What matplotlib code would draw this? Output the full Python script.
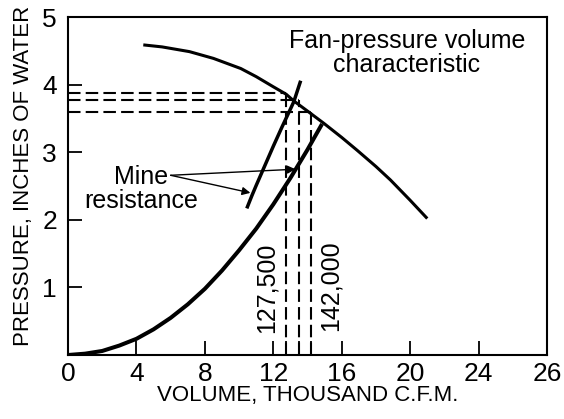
"""Fan characteristic and mine resistance curves"""
import matplotlib
matplotlib.use('Agg')
import matplotlib.pyplot as plt

plt.rcParams['font.family'] = ['Liberation Sans', 'DejaVu Sans']

# Fan-pressure volume characteristic
fan_q = [4.4, 5.5, 7.1, 8.5, 10.1, 11.0, 12.0, 12.75, 13.2, 14.0, 14.95, 16.0, 16.9, 18.0, 18.85, 20.0, 21.0]
fan_p = [4.59, 4.56, 4.49, 4.39, 4.24, 4.12, 3.97, 3.86, 3.76, 3.61, 3.43, 3.22, 3.03, 2.79, 2.59, 2.29, 2.02]

# Mine resistance, steep curve
mine1_q = [10.45, 10.75, 11.0, 11.5, 12.0, 12.5, 13.0, 13.2, 13.6]
mine1_p = [2.17, 2.36, 2.51, 2.80, 3.09, 3.37, 3.64, 3.75, 4.06]

# Mine resistance, flat curve
mine2_q = [0.0, 1.0, 2.0, 3.0, 4.0, 5.0, 6.0, 7.0, 8.0, 9.0, 10.0, 11.0, 12.0, 13.0, 14.0, 14.85]
mine2_p = [0.0, 0.02, 0.06, 0.14, 0.24, 0.38, 0.55, 0.75, 0.98, 1.25, 1.55, 1.87, 2.23, 2.62, 3.04, 3.42]

# Operating points (dashed lines)
op_q = [12.75, 13.5, 14.2]
op_p = [3.88, 3.78, 3.60]
op_labels = ["127,500", "142,000"]

# the printed axis puts "26" at the right frame edge
x_ticks = [0, 4, 8, 12, 16, 20, 24, 28]
x_tick_labels = ["0", "4", "8", "12", "16", "20", "24", "26"]
y_ticks = [1, 2, 3, 4, 5]

fig = plt.figure(figsize=(5.64, 4.19), dpi=100)
ax = fig.add_axes([0.1206, 0.1527, 0.8493, 0.8063])

ax.plot(fan_q, fan_p, color='black', lw=2.2, solid_capstyle='butt')
ax.plot(mine1_q, mine1_p, color='black', lw=2.5, solid_capstyle='butt')
ax.plot(mine2_q, mine2_p, color='black', lw=2.9, solid_capstyle='butt')

# 虚线
for q, p in zip(op_q, op_p):
    ax.plot([0, q], [p, p], color='black', lw=1.5, dashes=(6, 2.5))
    ax.plot([q, q], [0, p], color='black', lw=1.5, dashes=(6, 2.5))

ax.text(11.6, 0.32, op_labels[0], rotation=90, ha='center', va='bottom', fontsize=18)
ax.text(15.35, 0.36, op_labels[1], rotation=90, ha='center', va='bottom', fontsize=18)

ax.text(19.8, 4.47, "Fan-pressure volume\ncharacteristic", ha='center', va='center',
        fontsize=18, linespacing=1.0)

ax.text(4.25, 2.45, "Mine\nresistance", ha='center', va='center', fontsize=18, linespacing=1.0)
for tip in [(10.66, 2.40), (13.3, 2.75)]:
    ax.annotate("", xy=tip, xytext=(6.0, 2.66),
                arrowprops=dict(arrowstyle='-|>', color='black', lw=1.0,
                                mutation_scale=12, shrinkA=0, shrinkB=0))

ax.set_xlim(0, 28)
ax.set_ylim(0, 5)
ax.set_xticks(x_ticks)
ax.set_xticklabels(x_tick_labels)
ax.set_xticks(op_q, minor=True)
ax.set_yticks(y_ticks)
ax.tick_params(axis='both', which='both', direction='in', length=10, width=1.3,
               labelsize=19, pad=5)
ax.tick_params(axis='y', pad=8)
for s in ax.spines.values():
    s.set_linewidth(1.5)

ax.set_xlabel("VOLUME, THOUSAND C.F.M.", fontsize=16, labelpad=-1)
ax.set_ylabel("PRESSURE, INCHES OF WATER", fontsize=16)
ax.yaxis.set_label_coords(-0.072, 0.53)

fig.savefig("out.png", dpi=100)
plt.close(fig)
